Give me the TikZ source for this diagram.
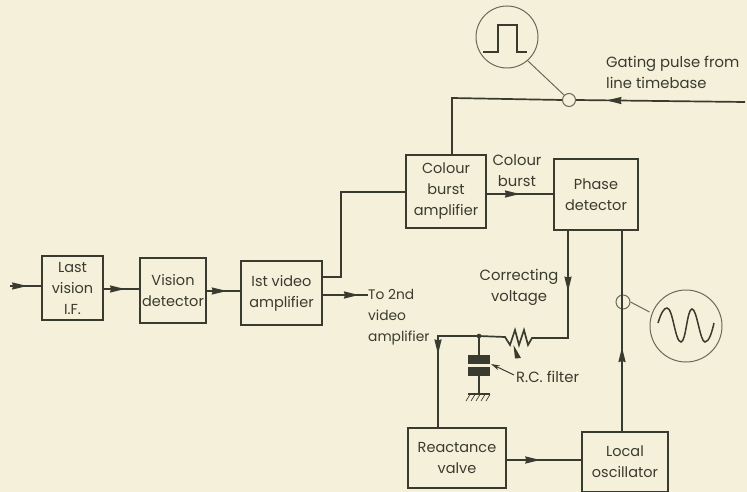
\documentclass[tikz,border=0pt]{standalone}
\usepackage{fontspec}
\setmainfont{Poppins}
\usetikzlibrary{arrows.meta,decorations.markings}
\definecolor{paper}{HTML}{F5F0D9}
\definecolor{ink}{HTML}{3A3B30}
\definecolor{probeink}{HTML}{6A6B5C}
\tikzset{
  wire/.style={draw=ink,line width=1.7pt,line join=miter},
  block/.style={draw=ink,line width=1.7pt,align=center,text=ink,inner sep=0pt,font=\fontsize{14.5}{21}\selectfont},
  caption/.style={align=center,text=ink,inner sep=0pt,font=\fontsize{14.8}{21}\selectfont},
  thin wire/.style={draw=probeink,line width=1pt},
  flowat/.style={postaction={decorate},decoration={markings,mark=at position #1 with {\arrow{Stealth[length=15pt,width=7pt,inset=1pt]}}}},
  probe/.style={circle,draw=probeink,line width=1pt,inner sep=0pt,minimum size=#1},
}
\begin{document}
\begin{tikzpicture}[x=1pt,y=-1pt]
\path[fill=paper] (0,0) rectangle (747,492);
\useasboundingbox (0,0) rectangle (747,492);
% blocks
\node[block,minimum width=61pt,minimum height=64pt] (last) at (72.5,288) {Last\\vision\\I.F.};
\node[block,minimum width=66pt,minimum height=65pt] (det) at (173,290.5) {Vision\\detector};
\node[block,minimum width=81pt,minimum height=64pt] (vid) at (281.5,293) {Ist video\\amplifier};
\node[block,minimum width=80pt,minimum height=73pt] (burst) at (446,191.5) {Colour\\burst\\amplifier};
\node[block,minimum width=84pt,minimum height=71pt] (phase) at (596,194.5) {Phase\\detector};
\node[block,minimum width=98pt,minimum height=60pt] (react) at (457,458) {Reactance\\valve};
\node[block,minimum width=86pt,minimum height=60pt] (osc) at (625,462) {Local\\oscillator};
% captions
\node[caption,align=left,anchor=west] (gate) at (606,72) {Gating pulse from\\line timebase};
\node[caption] (cb) at (517,171) {Colour\\burst};
\node[caption] (cv) at (519,287) {Correcting\\voltage};
\node[caption,align=left,anchor=north west,font=\fontsize{13.8}{21}\selectfont] (to2) at (368,289) {To 2nd\\video\\amplifier};
\node[caption,anchor=west] (rc) at (516,377) {R.C. filter};
% free ends and junctions
\coordinate (inA) at (10,286);
\coordinate (gateR) at (745,102);
\coordinate (gateL) at (452,98);
\coordinate (vidUp) at (341,277);
\coordinate (burstIn) at (406,192);
\coordinate (vidTop) at (341,192);
\coordinate (corner) at (568,338);
\coordinate (resR) at (540,338);
\coordinate (resL) at (505,337);
\coordinate (junc) at (479,336);
\coordinate (leftC) at (438,336);
% probes
\node[probe=13pt] (pg) at (569,100) {};
\node[probe=14pt] (ps) at (623,302) {};
\node[probe=62pt] (pulse) at (507,37) {};
\node[probe=72pt] (sine) at (686,326) {};
% connectors
\draw[wire,flowat=.55] (inA) -- (last.west |- inA);
\draw[wire,flowat=.6] (last.east |- 0,289) -- (det.west |- 0,289);
\draw[wire,flowat=.6] (det.east |- 0,291) -- (vid.west |- 0,291);
\draw[wire] (vid.east |- vidUp) -- (vidUp) -- (vidTop) -- (burstIn);
\draw[wire,flowat=.8] (vid.east |- 0,295) -- (to2.north west |- 0,295);
\draw[wire,flowat=.5] (burst.east |- 0,194) -- (phase.west |- 0,194);
\draw[wire,flowat=.82] (gateR) -- (pg.east);
\draw[wire] (pg.west) -- (gateL) -- (gateL |- burst.north);
\draw[wire,flowat=.45] (phase.south -| corner) -- (corner) -- (resR);
\draw[wire] (resR) -- (532,338) -- (528,345) -- (524,330) -- (519,345) -- (515,330) -- (510,345) -- (505,337) -- (junc);
\draw[wire,flowat=.45] (junc) -- (leftC) -- (leftC |- react.north);
\fill[ink] (junc) circle (2.3pt);
\draw[wire,flowat=.45] (react.east |- 0,460) -- (osc.west |- 0,460);
\draw[wire,flowat=.42] (osc.north -| 622,0) -- (622,0 |- phase.south);
% probe leaders
\draw[thin wire] (pulse) ++(49:31) -- (pg.north west);
\draw[thin wire] (ps.east) -- (sine.west |- 0,312);
% capacitor and earth
\coordinate (plateA) at (479,359.5);
\coordinate (plateB) at (479,371.5);
\coordinate (earth) at (479,394);
\draw[wire] (junc) -- (plateA);
\draw[wire] (plateB) -- (earth);
\fill[ink] (468,355) rectangle (490,364);
\fill[ink] (468,367) rectangle (490,376);
\draw[draw=ink,line width=1.1pt] (468,394) -- (490,394);
\foreach \h in {470,475,480,485,490} \draw[draw=ink,line width=0.7pt] (\h,394.5) -- (\h-4,401);
% pointers
\draw[draw=ink,line width=1pt,-{Stealth[length=9pt,width=5pt]}] (rc.west) ++(-2,-2) -- (491,364);
\fill[ink] (513.5,345) -- (521,358) -- (515,358.5) -- cycle;
% waveforms
\draw[wire,line width=1.5pt] (483,52) -- (498,52) -- (498,25) -- (517,25) -- (517,52) -- (527,52);
\draw[wire,line width=1.5pt] (658,323) .. controls (661,313) and (664,308) .. (667,308)
  .. controls (673,308) and (675,342) .. (681,342)
  .. controls (686,342) and (687,309) .. (692,309)
  .. controls (697,309) and (700,342) .. (705,342)
  .. controls (709,342) and (712,332) .. (714,323);
\end{tikzpicture}
\end{document}
